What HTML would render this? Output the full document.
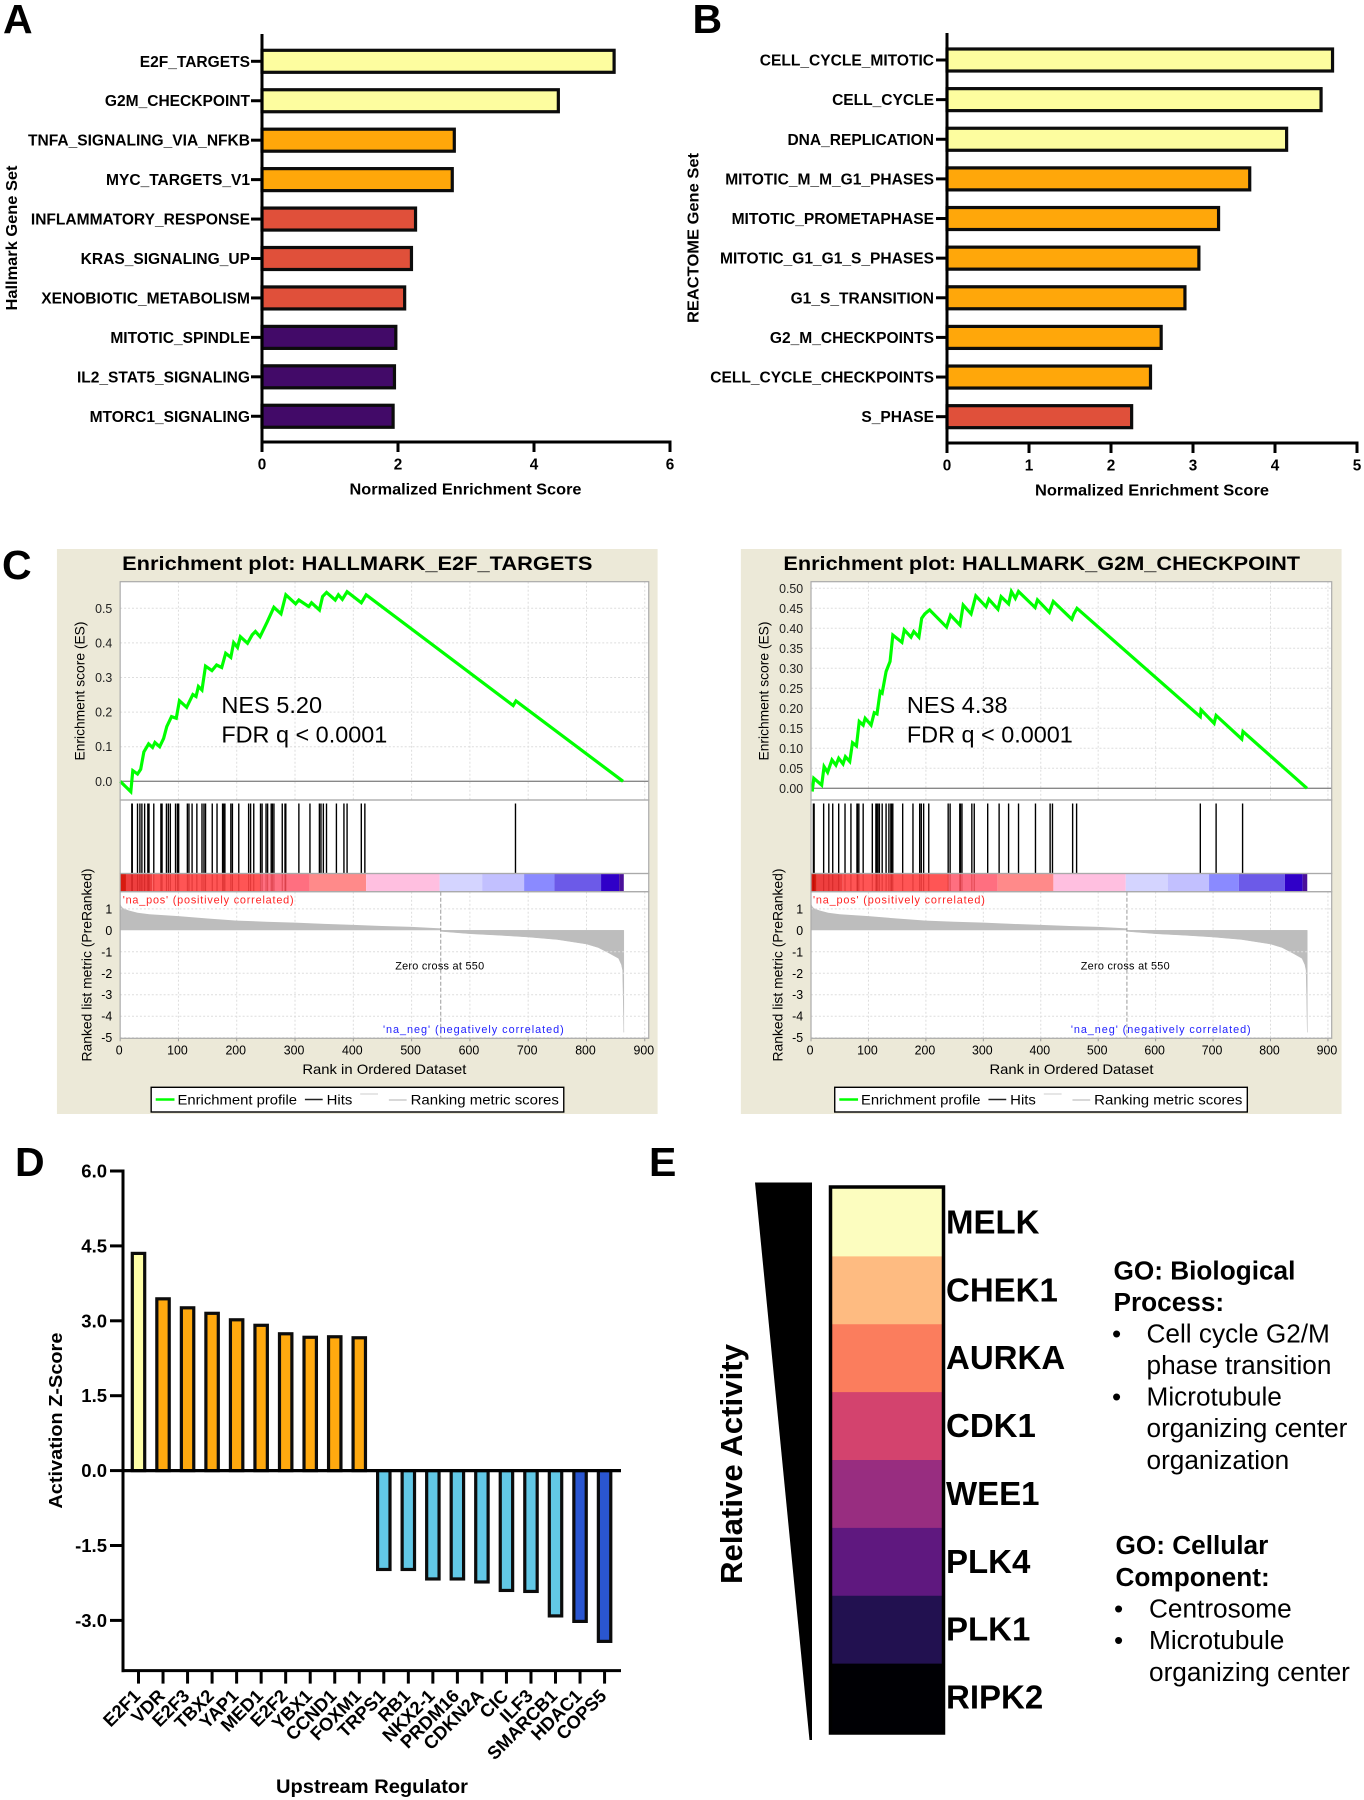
<!DOCTYPE html>
<html lang="en">
<head>
<meta charset="utf-8">
<title>Enrichment figure</title>
<style>
html,body{margin:0;padding:0;background:#fff;}
svg{display:block;font-family:"Liberation Sans",Arial,sans-serif;}
text{fill:#000;}
.b{font-weight:bold;}
</style>
</head>
<body>
<svg id="fig" width="1364" height="1800" viewBox="0 0 1364 1800" xmlns="http://www.w3.org/2000/svg">
  <rect x="0" y="0" width="1364" height="1800" fill="#fff"/>

  <g id="panelA">
    <text class="b" x="3" y="33" font-size="41">A</text>
    <text class="b" x="17" y="238" font-size="15.5" text-anchor="middle" textLength="145" lengthAdjust="spacingAndGlyphs" transform="rotate(-90 17 238)">Hallmark Gene Set</text>
    <text class="b" x="465.5" y="494.5" font-size="15.5" text-anchor="middle" textLength="232" lengthAdjust="spacingAndGlyphs">Normalized Enrichment Score</text>
  </g>

  <g id="panelB">
    <text class="b" x="692.5" y="33" font-size="41">B</text>
    <text class="b" x="698.5" y="238" font-size="15.5" text-anchor="middle" textLength="170" lengthAdjust="spacingAndGlyphs" transform="rotate(-90 698.5 238)">REACTOME Gene Set</text>
    <text class="b" x="1152" y="495.5" font-size="15.5" text-anchor="middle" textLength="234" lengthAdjust="spacingAndGlyphs">Normalized Enrichment Score</text>
  </g>

  <text class="b" x="2" y="579" font-size="41">C</text>

  <g id="gseaLeft" transform="translate(50 0) scale(0.988 1) translate(-50 0)">
    <rect x="57" y="549" width="608" height="565" fill="#ece9d8"/>
    <text class="b" x="123" y="570" font-size="19" textLength="476" lengthAdjust="spacingAndGlyphs">Enrichment plot: HALLMARK_E2F_TARGETS</text>
    <g id="gseaLeftPlot"></g>
    <text x="85" y="691" font-size="14" text-anchor="middle" fill="#222" textLength="139" lengthAdjust="spacingAndGlyphs" transform="rotate(-90 85 691)">Enrichment score (ES)</text>
    <text x="92" y="965" font-size="14" text-anchor="middle" textLength="193" lengthAdjust="spacingAndGlyphs" transform="rotate(-90 92 965)">Ranked list metric (PreRanked)</text>
    <text x="388.4" y="1074" font-size="14" text-anchor="middle" textLength="166" lengthAdjust="spacingAndGlyphs">Rank in Ordered Dataset</text>
    <text x="223.4" y="713" font-size="23" textLength="102" lengthAdjust="spacingAndGlyphs">NES 5.20</text>
    <text x="223.4" y="742.5" font-size="23" textLength="168" lengthAdjust="spacingAndGlyphs">FDR q &lt; 0.0001</text>
    <text x="123.6" y="903.5" font-size="11" style="fill:#f22" textLength="173" lengthAdjust="spacing">'na_pos' (positively correlated)</text>
    <text x="444.4" y="969.5" font-size="11" text-anchor="middle" textLength="90" lengthAdjust="spacing">Zero cross at 550</text>
    <text x="387" y="1033" font-size="11" style="fill:#22f" textLength="183" lengthAdjust="spacing">'na_neg' (negatively correlated)</text>
    <g>
      <rect x="152.4" y="1087.3" width="417.6" height="24.7" fill="#fff" stroke="#000" stroke-width="1.4"/>
      <line x1="157" x2="176" y1="1099.5" y2="1099.5" stroke="#0f0" stroke-width="2.5"/>
      <text x="179" y="1104.5" font-size="14" textLength="121" lengthAdjust="spacingAndGlyphs">Enrichment profile</text>
      <line x1="308" x2="326" y1="1099.5" y2="1099.5" stroke="#222" stroke-width="1.5"/>
      <text x="330" y="1104.5" font-size="14" textLength="26" lengthAdjust="spacingAndGlyphs">Hits</text>
      <line x1="364" x2="382" y1="1094" y2="1094" stroke="#ccc" stroke-width="1"/>
      <line x1="393" x2="411" y1="1100" y2="1100" stroke="#ccc" stroke-width="1.5"/>
      <text x="415" y="1104.5" font-size="14" textLength="150" lengthAdjust="spacingAndGlyphs">Ranking metric scores</text>
    </g>
  </g>

  <g id="gseaRight" transform="translate(730 0) scale(0.988 1) translate(-730 0)">
    <rect x="741" y="549" width="608" height="565" fill="#ece9d8"/>
    <text class="b" x="784" y="570" font-size="19" textLength="523" lengthAdjust="spacingAndGlyphs">Enrichment plot: HALLMARK_G2M_CHECKPOINT</text>
    <g id="gseaRightPlot"></g>
    <text x="769" y="691" font-size="14" text-anchor="middle" fill="#222" textLength="139" lengthAdjust="spacingAndGlyphs" transform="rotate(-90 769 691)">Enrichment score (ES)</text>
    <text x="783" y="965" font-size="14" text-anchor="middle" textLength="193" lengthAdjust="spacingAndGlyphs" transform="rotate(-90 783 965)">Ranked list metric (PreRanked)</text>
    <text x="1075.6" y="1074" font-size="14" text-anchor="middle" textLength="166" lengthAdjust="spacingAndGlyphs">Rank in Ordered Dataset</text>
    <text x="909" y="713" font-size="23" textLength="102" lengthAdjust="spacingAndGlyphs">NES 4.38</text>
    <text x="909" y="742.5" font-size="23" textLength="168" lengthAdjust="spacingAndGlyphs">FDR q &lt; 0.0001</text>
    <text x="814" y="903.5" font-size="11" style="fill:#f22" textLength="174" lengthAdjust="spacing">'na_pos' (positively correlated)</text>
    <text x="1130" y="969.5" font-size="11" text-anchor="middle" textLength="90" lengthAdjust="spacing">Zero cross at 550</text>
    <text x="1075" y="1033" font-size="11" style="fill:#22f" textLength="182" lengthAdjust="spacing">'na_neg' (negatively correlated)</text>
    <g transform="translate(683.6 0)">
      <rect x="152.4" y="1087.3" width="417.6" height="24.7" fill="#fff" stroke="#000" stroke-width="1.4"/>
      <line x1="157" x2="176" y1="1099.5" y2="1099.5" stroke="#0f0" stroke-width="2.5"/>
      <text x="179" y="1104.5" font-size="14" textLength="121" lengthAdjust="spacingAndGlyphs">Enrichment profile</text>
      <line x1="308" x2="326" y1="1099.5" y2="1099.5" stroke="#222" stroke-width="1.5"/>
      <text x="330" y="1104.5" font-size="14" textLength="26" lengthAdjust="spacingAndGlyphs">Hits</text>
      <line x1="364" x2="382" y1="1094" y2="1094" stroke="#ccc" stroke-width="1"/>
      <line x1="393" x2="411" y1="1100" y2="1100" stroke="#ccc" stroke-width="1.5"/>
      <text x="415" y="1104.5" font-size="14" textLength="150" lengthAdjust="spacingAndGlyphs">Ranking metric scores</text>
    </g>
  </g>

  <g id="panelD">
    <text class="b" x="15" y="1176" font-size="41">D</text>
    <text class="b" x="62" y="1420.6" font-size="18.5" text-anchor="middle" textLength="176" lengthAdjust="spacingAndGlyphs" transform="rotate(-90 62 1420.6)">Activation Z-Score</text>
    <text class="b" x="372" y="1793" font-size="19" text-anchor="middle" textLength="192" lengthAdjust="spacingAndGlyphs">Upstream Regulator</text>
  </g>

  <g id="panelE">
    <text class="b" x="649" y="1176" font-size="41">E</text>
    <polygon points="755,1182.5 812,1182.5 812,1740 809.5,1740" fill="#000"/>
    <text class="b" x="742" y="1464" font-size="30.5" text-anchor="middle" textLength="240" lengthAdjust="spacingAndGlyphs" transform="rotate(-90 742 1464)">Relative Activity</text>
    <g id="kinaseHeat"></g>
    <g font-size="26.2">
      <text class="b" x="1113.5" y="1279.5">GO: Biological</text>
      <text class="b" x="1113.5" y="1311">Process:</text>
      <text x="1112" y="1342.5">•</text>
      <text x="1146.5" y="1342.5">Cell cycle G2/M</text>
      <text x="1146.5" y="1374">phase transition</text>
      <text x="1112" y="1405.5">•</text>
      <text x="1146.5" y="1405.5">Microtubule</text>
      <text x="1146.5" y="1437">organizing center</text>
      <text x="1146.5" y="1469">organization</text>
    </g>
    <g font-size="26.2">
      <text class="b" x="1115.5" y="1554">GO: Cellular</text>
      <text class="b" x="1115.5" y="1586">Component:</text>
      <text x="1114" y="1617.5">•</text>
      <text x="1149" y="1617.5">Centrosome</text>
      <text x="1114" y="1649">•</text>
      <text x="1149" y="1649">Microtubule</text>
      <text x="1149" y="1681">organizing center</text>
    </g>
  </g>
</svg>

<script>
/* ---------- Panel A data ---------- */
const hallmarkCategories = ["E2F_TARGETS","G2M_CHECKPOINT","TNFA_SIGNALING_VIA_NFKB","MYC_TARGETS_V1","INFLAMMATORY_RESPONSE","KRAS_SIGNALING_UP","XENOBIOTIC_METABOLISM","MITOTIC_SPINDLE","IL2_STAT5_SIGNALING","MTORC1_SIGNALING"];
const hallmarkValues = [5.20,4.38,2.85,2.82,2.28,2.22,2.12,1.99,1.97,1.95];
const hallmarkColors = ["#fdfd9f","#fdfd9f","#ffa70a","#ffa70a","#e0503a","#e0503a","#e0503a","#420a68","#420a68","#420a68"];
const hallmarkTicks = [0,2,4,6];

/* ---------- Panel B data ---------- */
const reactomeCategories = ["CELL_CYCLE_MITOTIC","CELL_CYCLE","DNA_REPLICATION","MITOTIC_M_M_G1_PHASES","MITOTIC_PROMETAPHASE","MITOTIC_G1_G1_S_PHASES","G1_S_TRANSITION","G2_M_CHECKPOINTS","CELL_CYCLE_CHECKPOINTS","S_PHASE"];
const reactomeValues = [4.72,4.58,4.16,3.71,3.33,3.09,2.92,2.63,2.50,2.27];
const reactomeColors = ["#fdfd9f","#fdfd9f","#fdfd9f","#ffa70a","#ffa70a","#ffa70a","#ffa70a","#ffa70a","#ffa70a","#e0503a"];
const reactomeTicks = [0,1,2,3,4,5];

/* ---------- Panel C data ---------- */
const rankTicks = [0,100,200,300,400,500,600,700,800,900];
const metricTicks = [1,0,-1,-2,-3,-4,-5];
const metricRanks = [0,2,5,15,30,50,100,150,200,250,300,350,400,450,500,550];
const metricValues = [1.25,1.12,1.03,0.92,0.82,0.75,0.66,0.55,0.45,0.40,0.36,0.30,0.25,0.20,0.16,0.09];
const metricNegRanks = [551,600,650,700,750,800,820,840,855,860,862,863,864];
const metricNegValues = [-0.05,-0.16,-0.23,-0.31,-0.43,-0.64,-0.80,-1.08,-1.31,-1.60,-1.86,-3.2,-4.75];
const colorBarEnds = [10,55,240,325,422,548,621,693,745,825,856,864];
const colorBarColors = ["#d81a10","#ee3f3f","#ff5555","#ff6f80","#ff8a8a","#ffbfe0","#d4d4ff","#c2c0ff","#8a8aff","#6c5ae8","#3000c8","#4a109a"];

const e2fEsTicks = [0,0.1,0.2,0.3,0.4,0.5];
const e2fEsTickLabels = ["0.0","0.1","0.2","0.3","0.4","0.5"];
const e2fRanks = [0,18.3,21.7,29.8,35.3,40.7,48.8,55.6,59.7,67.8,74.6,80,88.2,96.3,101.7,114,124.8,130.2,134.3,140.4,146.5,157.4,165.5,174.3,181.1,189.9,194.7,201.4,206.2,218.4,226.5,232,240,252.3,263.8,276,284.2,301.1,306.6,323.5,328.3,341.8,347.3,354,369,374.4,381.2,389.3,413.7,422,674.2,678.9,862.7];
const e2fScores = [0,-0.030,0.031,0.021,0.035,0.085,0.108,0.098,0.112,0.100,0.124,0.158,0.187,0.182,0.233,0.214,0.251,0.245,0.274,0.264,0.333,0.320,0.336,0.329,0.370,0.358,0.401,0.387,0.418,0.399,0.423,0.433,0.418,0.461,0.503,0.484,0.539,0.513,0.524,0.505,0.516,0.495,0.534,0.546,0.524,0.539,0.526,0.548,0.516,0.539,0.219,0.232,0];
const e2fHits = [20,20.8,29.8,33.9,37.3,42,47.5,49.5,57.7,69.9,71.9,79.4,82.7,86.1,95,98.3,100.4,115.3,118,123.4,131.6,140.4,143.8,146.5,158,166.2,175.7,177.7,179.7,189.9,192.6,203.5,220.4,223.8,229.2,240.8,243.5,250.3,253,259.1,261.1,263.8,278.1,282.8,284.2,306.6,325.6,341.8,344.5,348.6,354,371,383.9,389.3,413.7,419.8,678.2];

const g2mEsTicks = [0,0.05,0.10,0.15,0.20,0.25,0.30,0.35,0.40,0.45,0.50];
const g2mEsTickLabels = ["0.00","0.05","0.10","0.15","0.20","0.25","0.30","0.35","0.40","0.45","0.50"];
const g2mRanks = [2,4.8,18.6,22.7,28.9,36.5,43.3,48.2,55.7,59.9,67.4,72.2,79.1,83.9,90.8,94.3,104.6,110.1,114.9,120.4,123.9,130.7,137.6,142.4,158.3,162.4,174.1,178.9,187.8,192.7,198.2,206.4,236,242.9,259.4,264.9,278.7,286.9,304.8,309.6,325.5,331,344,348.9,355.7,361.3,390.1,394.3,414.9,421.8,454.1,457.6,463.1,677.8,679.1,701.9,705.3,750,752.1,863.5];
const g2mScores = [-0.008,0.025,0.008,0.054,0.04,0.071,0.058,0.075,0.061,0.079,0.067,0.114,0.106,0.167,0.158,0.175,0.158,0.189,0.186,0.242,0.238,0.292,0.317,0.383,0.365,0.396,0.378,0.392,0.378,0.425,0.436,0.446,0.403,0.433,0.408,0.458,0.436,0.481,0.454,0.4725,0.4475,0.479,0.461,0.492,0.475,0.492,0.452,0.471,0.44,0.467,0.4225,0.436,0.45,0.179,0.196,0.1625,0.182,0.123,0.142,0];
const g2mHits = [4.2,5.4,22,31,37.8,48.2,59.2,69.5,80,81,83.3,90.8,106.7,113,114.2,116.3,119,123.9,130.7,135.6,139,140.4,142.4,159.6,177.5,189.2,192,196.1,205,238.8,242.2,259,260.2,262.8,280,284.2,307.6,327.5,344,361.3,390.8,416.3,420.4,455.5,462.4,677.8,705.3,751.4];

/* ---------- Panel D data ---------- */
const regulatorCategories = ["E2F1","VDR","E2F3","TBX2","YAP1","MED1","E2F2","YBX1","CCND1","FOXM1","TRPS1","RB1","NKX2-1","PRDM16","CDKN2A","CIC","ILF3","SMARCB1","HDAC1","COPS5"];
const regulatorValues = [4.35,3.44,3.26,3.15,3.02,2.91,2.74,2.67,2.68,2.66,-1.98,-1.98,-2.17,-2.17,-2.23,-2.40,-2.42,-2.91,-3.02,-3.42];
const regulatorColors = ["#ffffa8","#ffa90f","#ffa90f","#ffa90f","#ffa90f","#ffa90f","#ffa90f","#ffa90f","#ffa90f","#ffa90f","#62c8e6","#62c8e6","#62c8e6","#62c8e6","#62c8e6","#62c8e6","#62c8e6","#62c8e6","#2a56d0","#2a56d0"];
const zScoreTicks = [6,4.5,3,1.5,0,-1.5,-3];
const zScoreTickLabels = ["6.0","4.5","3.0","1.5","0.0","-1.5","-3.0"];

/* ---------- Panel E data ---------- */
const kinaseNames = ["MELK","CHEK1","AURKA","CDK1","WEE1","PLK4","PLK1","RIPK2"];
const kinaseColors = ["#fcfdbf","#febb81","#fb7d5d","#d3436e","#982d80","#5f187f","#221150","#000004"];

const SVGNS = "http://www.w3.org/2000/svg";
function mk(tag, attrs, parent, content) {
  const e = document.createElementNS(SVGNS, tag);
  for (const k in attrs) e.setAttribute(k, attrs[k]);
  if (content !== undefined) e.textContent = content;
  parent.appendChild(e);
  return e;
}
function linear(d0, d1, r0, r1) {
  return function (v) { return r0 + (v - d0) * (r1 - r0) / (d1 - d0); };
}

function drawHBars(parent, prefix, cats, vals, colors, ticks, cfg) {
  const x = linear(0, ticks[ticks.length - 1], cfg.x0, cfg.x1);
  const cy = function (i) { return cfg.firstCenter + i * cfg.step; };
  cats.forEach(function (c, i) {
    const bar = mk("rect", { x: x(0), y: cy(i) - 11, width: Math.max(0, x(vals[i]) - x(0) - 1.5), height: 22, fill: colors[i], stroke: "#0c0c0c", "stroke-width": 3.2 }, parent);
    
    
    const t = mk("line", { x1: x(0) - 11, x2: x(0), y1: cy(i), y2: cy(i), stroke: "#000", "stroke-width": 3 }, parent);
    
    
    const l = mk("text", { x: cfg.labelX, y: cy(i) + 5.5, "font-size": 15.55, "font-weight": "bold", "text-anchor": "end" }, parent, c);
    
    
  });
  const ya = mk("line", { x1: cfg.x0, x2: cfg.x0, y1: cfg.top, y2: cfg.bottom + 1.5, stroke: "#000", "stroke-width": 3 }, parent);
  
  
  const xa = mk("line", { x1: cfg.x0 - 1.5, x2: cfg.x1 + 1.5, y1: cfg.bottom, y2: cfg.bottom, stroke: "#000", "stroke-width": 3 }, parent);
  
  
  ticks.forEach(function (v) {
    const t = mk("line", { x1: x(v), x2: x(v), y1: cfg.bottom, y2: cfg.bottom + 10, stroke: "#000", "stroke-width": 3 }, parent);
    
    
    const l = mk("text", { x: x(v), y: cfg.bottom + 27.5, "font-size": 15.3, "font-weight": "bold", "text-anchor": "middle" }, parent, String(v));
    
    
  });
}

function drawGsea(parent, prefix, ranks, scores, hits, esTicks, esLabels, cfg) {
  const x = linear(0, 900, cfg.x0, cfg.x900);
  const yEs = linear(0, 0.5, cfg.es0, cfg.es05);
  const yM = linear(0, -5, 930.3, 1037.7);
  const top = 581.7, esBottom = 800, hitsBottom = 873.5, barBottom = 891.7, plotBottom = 1038.3;
  const bg = mk("rect", { x: cfg.x0, y: top, width: cfg.xEnd - cfg.x0, height: plotBottom - top, fill: "#fff" }, parent);
  
  
  rankTicks.slice(1).forEach(function (r) {
    [[top, esBottom], [barBottom, plotBottom]].forEach(function (span) {
      const g = mk("line", { x1: x(r), x2: x(r), y1: span[0], y2: span[1], stroke: "#ddd", "stroke-dasharray": "2 2" }, parent);
      
      
    });
  });
  esTicks.forEach(function (v, i) {
    if (v !== 0) {
      const g = mk("line", { x1: cfg.x0, x2: cfg.xEnd, y1: yEs(v), y2: yEs(v), stroke: "#ddd", "stroke-dasharray": "2 2" }, parent);
      
      
    }
    const l = mk("text", { x: cfg.labelX, y: yEs(v) + 4.5, "font-size": 12.5, "text-anchor": "end", style: "fill:#222" }, parent, esLabels[i]);
    
    
  });
  const zeroLine = mk("line", { x1: cfg.x0, x2: cfg.xEnd, y1: yEs(0), y2: yEs(0), stroke: "#888", "stroke-width": 1.4 }, parent);
  
  
  const profile = mk("polyline", { points: ranks.map(function (r, i) { return x(r).toFixed(1) + "," + yEs(scores[i]).toFixed(1); }).join(" "), fill: "none", stroke: "#00ff00", "stroke-width": 3.2, "stroke-linejoin": "miter" }, parent);
  
  
  hits.forEach(function (r) {
    const h = mk("line", { x1: x(r), x2: x(r), y1: 803.5, y2: hitsBottom, stroke: "#000", "stroke-width": 1.4 }, parent);
    
    
  });
  let start = 0;
  colorBarEnds.forEach(function (end, i) {
    const s = mk("rect", { x: x(start), y: hitsBottom, width: x(end) - x(start), height: barBottom - hitsBottom, fill: colorBarColors[i] }, parent);
    
    
    start = end;
  });
  hits.forEach(function (r) {
    if (r < 285) {
      const h = mk("line", { x1: x(r), x2: x(r), y1: hitsBottom, y2: barBottom, stroke: "rgba(170,0,0,0.35)", "stroke-width": 1.1 }, parent);
      
      
    }
  });
  const posPts = [x(0) + "," + yM(0)].concat(metricRanks.map(function (r, i) { return x(r).toFixed(1) + "," + yM(metricValues[i]).toFixed(1); }), [x(550) + "," + yM(0)]);
  const pos = mk("polygon", { points: posPts.join(" "), fill: "#bdbdbd" }, parent);
  
  
  const negPts = [x(551) + "," + yM(0)].concat(metricNegRanks.map(function (r, i) { return x(r).toFixed(1) + "," + yM(metricNegValues[i]).toFixed(1); }), [x(864) + "," + yM(0)]);
  const neg = mk("polygon", { points: negPts.join(" "), fill: "#bdbdbd", stroke: "#bdbdbd", "stroke-width": 0.5 }, parent);
  
  
  const zeroCross = mk("line", { x1: x(550), x2: x(550), y1: barBottom, y2: plotBottom, stroke: "#999", "stroke-dasharray": "4 2" }, parent);
  
  
  metricTicks.forEach(function (v) {
    if (v !== 0) {
      const g = mk("line", { x1: cfg.x0, x2: cfg.xEnd, y1: yM(v), y2: yM(v), stroke: "#ddd", "stroke-dasharray": "2 2" }, parent);
      
      
    }
    const l = mk("text", { x: cfg.labelX, y: yM(v) + 4.5, "font-size": 12.5, "text-anchor": "end" }, parent, String(v));
    
    
  });
  rankTicks.forEach(function (r) {
    const t = mk("line", { x1: x(r), x2: x(r), y1: plotBottom, y2: plotBottom + 3, stroke: "#999" }, parent);
    
    
    const l = mk("text", { x: x(r) - 1, y: 1054.5, "font-size": 12.5, "text-anchor": "middle" }, parent, String(r));
    
    
  });
  [[top, esBottom], [esBottom, hitsBottom], [hitsBottom, barBottom], [barBottom, plotBottom]].forEach(function (span) {
    const b = mk("rect", { x: cfg.x0, y: span[0], width: cfg.xEnd - cfg.x0, height: span[1] - span[0], fill: "none", stroke: "#aaa", "stroke-width": 1.2 }, parent);
    
    
  });
}

function drawRegulators(parent) {
  const y = linear(0, 6, 1470.6, 1171);
  const cx = function (i) { return 138.5 + i * 24.53; };
  const x0 = 123, x1 = 621, bottom = 1670.6;
  regulatorCategories.forEach(function (c, i) {
    const v = regulatorValues[i];
    const bar = mk("rect", { x: cx(i) - 6.2, y: Math.min(y(v), y(0)), width: 12.4, height: Math.abs(y(v) - y(0)), fill: regulatorColors[i], stroke: "#0c0c0c", "stroke-width": 3.2 }, parent);
    
    
    const t = mk("line", { x1: cx(i), x2: cx(i), y1: bottom, y2: bottom + 13, stroke: "#000", "stroke-width": 3 }, parent);
    
    
    const lx = cx(i) + 3, ly = 1697;
    const l = mk("text", { x: lx, y: ly, "font-size": 18.3, "font-weight": "bold", "text-anchor": "end", transform: "rotate(-45 " + lx + " " + ly + ")" }, parent, c);
    
    
  });
  const ya = mk("line", { x1: x0, x2: x0, y1: 1169.5, y2: bottom + 1.5, stroke: "#000", "stroke-width": 3 }, parent);
  
  
  const za = mk("line", { x1: x0, x2: x1, y1: y(0), y2: y(0), stroke: "#000", "stroke-width": 3.2 }, parent);
  
  
  const ba = mk("line", { x1: x0 - 1.5, x2: x1, y1: bottom, y2: bottom, stroke: "#000", "stroke-width": 3 }, parent);
  
  
  zScoreTicks.forEach(function (v, i) {
    const t = mk("line", { x1: x0 - 13, x2: x0, y1: y(v), y2: y(v), stroke: "#000", "stroke-width": 3 }, parent);
    
    
    const l = mk("text", { x: 107, y: y(v) + 6.5, "font-size": 18.5, "font-weight": "bold", "text-anchor": "end" }, parent, zScoreTickLabels[i]);
    
    
  });
}

function drawHeat(parent) {
  const left = 832, right = 942, top = 1188.5, bottom = 1731.5;
  const n = kinaseNames.length;
  const h = (bottom - top) / n;
  kinaseNames.forEach(function (name, i) {
    const c = mk("rect", { x: left, y: top + i * h, width: right - left, height: h + 0.5, fill: kinaseColors[i] }, parent);
    
    
    const l = mk("text", { x: 946, y: top + (i + 0.5) * h + 11, "font-size": 33, "font-weight": "bold" }, parent, name);
    
    
  });
  const box = mk("rect", { x: left - 1.5, y: top - 1.5, width: right - left + 3, height: bottom - top + 3, fill: "none", stroke: "#000", "stroke-width": 3.5 }, parent);
  
  
}

drawHBars(document.getElementById("panelA"), "hallmark", hallmarkCategories, hallmarkValues, hallmarkColors, hallmarkTicks,
  { x0: 262, x1: 670, top: 34, bottom: 442, firstCenter: 61.3, step: 39.44, labelX: 250 });
drawHBars(document.getElementById("panelB"), "reactome", reactomeCategories, reactomeValues, reactomeColors, reactomeTicks,
  { x0: 947, x1: 1357, top: 33, bottom: 443, firstCenter: 60, step: 39.63, labelX: 934 });
drawGsea(document.getElementById("gseaLeftPlot"), "gsea-left", e2fRanks, e2fScores, e2fHits, e2fEsTicks, e2fEsTickLabels,
  { x0: 121, x900: 652, xEnd: 656, es0: 781.3, es05: 608.3, labelX: 113 });
drawGsea(document.getElementById("gseaRightPlot"), "gsea-right", g2mRanks, g2mScores, g2mHits, g2mEsTicks, g2mEsTickLabels,
  { x0: 812, x900: 1335.2, xEnd: 1339, es0: 788.3, es05: 588.3, labelX: 804 });
drawRegulators(document.getElementById("panelD"));
drawHeat(document.getElementById("kinaseHeat"));
</script>
</body>
</html>
